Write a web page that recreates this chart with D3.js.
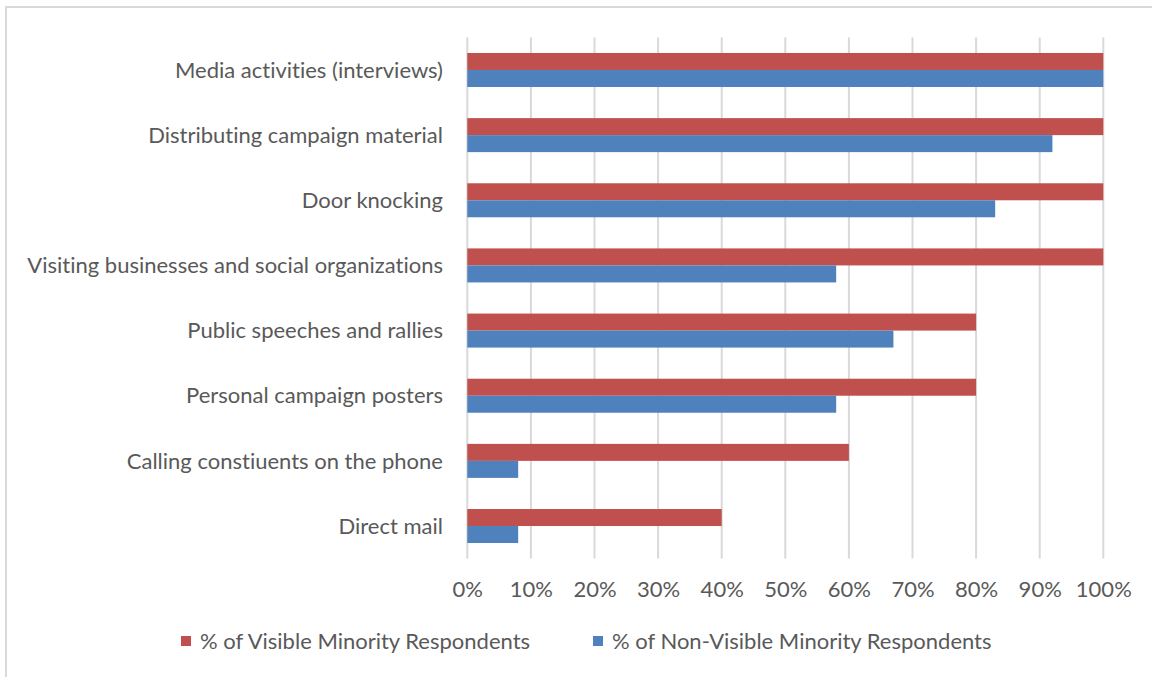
<!DOCTYPE html>
<html>
<head>
<meta charset="utf-8">
<script src="https://cdn.jsdelivr.net/npm/d3@7/dist/d3.min.js"></script>
<style>
  html, body { margin: 0; padding: 0; background: #ffffff; }
  svg { display: block; }
  text { font-family: Lato, "Open Sans", sans-serif; fill: #595959; font-variant-ligatures: none; font-feature-settings: "liga" 0, "dlig" 0; }
</style>
</head>
<body>
<svg id="chart" width="1152" height="677"></svg>
<script>
// Campaign activities, top to bottom
const categories = [
  "Media activities (interviews)",
  "Distributing campaign material",
  "Door knocking",
  "Visiting businesses and social organizations",
  "Public speeches and rallies",
  "Personal campaign posters",
  "Calling constiuents on the phone",
  "Direct mail"
];

const seriesNames = [
  "% of Visible Minority Respondents",
  "% of Non-Visible Minority Respondents"
];

// Share of respondents using each activity
const visibleMinority    = [1.00, 1.00, 1.00, 1.00, 0.80, 0.80, 0.60, 0.40];
const nonVisibleMinority = [1.00, 0.92, 0.83, 0.58, 0.67, 0.58, 0.08, 0.08];

const tickValues = [0, 0.1, 0.2, 0.3, 0.4, 0.5, 0.6, 0.7, 0.8, 0.9, 1.0];

const colors = ["#C0504D", "#4F81BD"];

const fontSize = 22;

const svg = d3.select("#chart");

// chart frame
svg.append("rect")
  .attr("x", 6).attr("y", 7)
  .attr("width", 1160).attr("height", 690)
  .attr("fill", "#ffffff")
  .attr("stroke", "#d9d9d9")
  .attr("stroke-width", 2);

const plot = { left: 467.3, right: 1103.3, top: 37.4, bottom: 558.6 };

const x = d3.scaleLinear().domain([0, 1]).range([plot.left, plot.right]);

const y0 = d3.scaleBand()
  .domain(categories)
  .range([plot.top, plot.bottom])
  .paddingInner(0.478)
  .paddingOuter(0.239);

const y1 = d3.scaleBand()
  .domain(seriesNames)
  .range([0, y0.bandwidth()]);

// vertical gridlines
svg.append("g")
  .selectAll("line")
  .data(tickValues)
  .join("line")
  .attr("x1", d => x(d)).attr("x2", d => x(d))
  .attr("y1", plot.top).attr("y2", plot.bottom)
  .attr("stroke", "#d9d9d9")
  .attr("stroke-width", 2);

// bars
const rows = categories.map((c, i) => ({
  category: c,
  values: [visibleMinority[i], nonVisibleMinority[i]]
}));

const groups = svg.append("g")
  .selectAll("g")
  .data(rows)
  .join("g")
  .attr("transform", d => `translate(0,${y0(d.category)})`);

groups.selectAll("rect")
  .data(d => d.values.map((v, j) => ({ series: seriesNames[j], value: v, j })))
  .join("rect")
  .attr("x", x(0))
  .attr("y", d => y1(d.series))
  .attr("width", d => x(d.value) - x(0))
  .attr("height", y1.bandwidth())
  .attr("fill", d => colors[d.j]);

// category labels
const yAxis = d3.axisLeft(y0).tickSize(0).tickPadding(0);
const yg = svg.append("g")
  .attr("transform", `translate(${443},0)`)
  .call(yAxis);
yg.select(".domain").remove();
yg.selectAll("text")
  .attr("font-size", fontSize)
  .attr("font-family", "Lato, sans-serif")
  .attr("fill", "#595959")
  .attr("dy", "0.35em");

// value axis labels
const xAxis = d3.axisBottom(x)
  .tickValues(tickValues)
  .tickFormat(d3.format(".0%"))
  .tickSize(0)
  .tickPadding(0);
const xg = svg.append("g")
  .attr("transform", `translate(0,${581})`)
  .call(xAxis);
xg.select(".domain").remove();
xg.selectAll("text")
  .attr("font-size", fontSize)
  .attr("font-family", "Lato, sans-serif")
  .attr("fill", "#595959");

// legend
const legendX = [181, 593];
const legend = svg.append("g")
  .selectAll("g")
  .data(seriesNames)
  .join("g")
  .attr("transform", (d, i) => `translate(${legendX[i]},${636})`);
legend.append("rect")
  .attr("width", 10).attr("height", 10)
  .attr("fill", (d, i) => colors[i]);
legend.append("text")
  .attr("x", 19).attr("y", 5)
  .attr("dy", "0.35em")
  .attr("font-size", fontSize)
  .text(d => d);
</script>
</body>
</html>
